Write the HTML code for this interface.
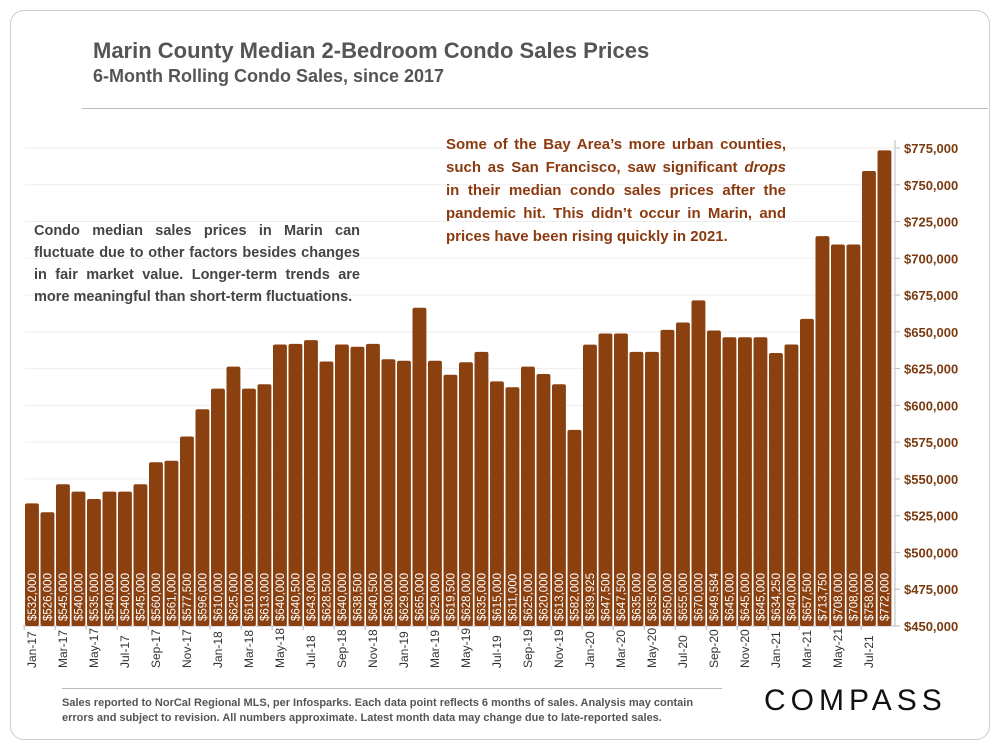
<!DOCTYPE html>
<html><head><meta charset="utf-8"><style>
body{margin:0;background:#fff;font-family:"Liberation Sans",sans-serif}
.card{position:absolute;left:10px;top:10px;width:978px;height:728px;border:1px solid #ccc;border-radius:14px}
.t1{position:absolute;left:93px;top:38px;font-size:22px;font-weight:bold;color:#555}
.t2{position:absolute;left:93px;top:66px;font-size:18px;font-weight:bold;color:#555}
.hr{position:absolute;left:82px;top:108px;width:906px;height:1px;background:#bbb}
.note1{position:absolute;left:34px;top:220px;width:326px;font-size:14.5px;font-weight:bold;color:#444;text-align:justify;line-height:22px}
.note2{position:absolute;left:446px;top:133px;width:340px;font-size:15px;font-weight:bold;color:#8B3A0F;text-align:justify;line-height:23px}
.foot{position:absolute;left:62px;top:696px;font-size:11px;font-weight:bold;color:#555;line-height:15px}
.fl{position:absolute;left:62px;top:688px;width:660px;height:1px;background:#bbb}
.logo{position:absolute;left:764px;top:684px;font-size:30px;letter-spacing:5px;color:#111}
</style></head><body>
<div class="card"></div>
<div class="t1">Marin County Median 2-Bedroom Condo Sales Prices</div>
<div class="t2">6-Month Rolling Condo Sales, since 2017</div>
<div class="hr"></div>
<svg id="c" width="1000" height="750" style="position:absolute;left:0;top:0"></svg>
<div class="note1">Condo median sales prices in Marin can fluctuate due to other factors besides changes in fair market value. Longer-term trends are more meaningful than short-term fluctuations.</div>
<div class="note2">Some of the Bay Area’s more urban counties, such as San Francisco, saw significant <i>drops</i> in their median condo sales prices after the pandemic hit. This didn’t occur in Marin, and prices have been rising quickly in 2021.</div>
<div class="fl"></div>
<div class="foot">Sales reported to NorCal Regional MLS, per Infosparks. Each data point reflects 6 months of sales. Analysis may contain<br>errors and subject to revision. All numbers approximate. Latest month data may change due to late-reported sales.</div>
<div class="logo">COMPASS</div>
<script>
const months=["Jan","Feb","Mar","Apr","May","Jun","Jul","Aug","Sep","Oct","Nov","Dec"];
const values=[532000,526000,545000,540000,535000,540000,540000,545000,560000,561000,577500,596000,610000,625000,610000,613000,640000,640500,643000,628500,640000,638500,640500,630000,629000,665000,629000,619500,628000,635000,615000,611000,625000,620000,613000,582000,639925,647500,647500,635000,635000,650000,655000,670000,649584,645000,645000,645000,634250,640000,657500,713750,708000,708000,758000,772000];
const yTicks=[450000,475000,500000,525000,550000,575000,600000,625000,650000,675000,700000,725000,750000,775000];
const categories=values.map((v,i)=>months[i%12]+"-"+(17+Math.floor(i/12)));
const NS="http://www.w3.org/2000/svg",svg=document.getElementById('c');
const y0=626,y1=148,vmin=450000,vmax=775000;
const y=v=>y0-(v-vmin)/(vmax-vmin)*(y0-y1);
const x0=25,pitch=(893-25)/values.length,bw=pitch-1.6;
const x=i=>x0+i*pitch;
function mk(t,a){const e=document.createElementNS(NS,t);for(const k in a)e.setAttribute(k,a[k]);svg.appendChild(e);return e;}
yTicks.forEach(t=>{
 const g=mk('line',{x1:25,x2:895,y1:y(t),y2:y(t),stroke:'#eee'});
 
 
 const tk=mk('line',{x1:895,x2:900,y1:y(t),y2:y(t),stroke:'#bbb'});
 
 
 const l=mk('text',{x:904,y:y(t)+5,'font-size':13,'font-weight':'bold',fill:'#7a3a10'});
 l.textContent='$'+t.toLocaleString('en-US');
 
 
});
const ax=mk('line',{x1:895,x2:895,y1:140,y2:y0,stroke:'#bbb'});


const bx=mk('line',{x1:23,x2:895,y1:y0,y2:y0,stroke:'#bbb'});


values.forEach((v,i)=>{
 const b=mk('rect',{x:x(i),y:y(v)-2,width:bw,height:y0-y(v)+2,rx:2,fill:'#8B4010'});
 
 
 const cx=x(i)+bw/2;
 const t=mk('text',{x:0,y:0,transform:`translate(${cx+4},621) rotate(-90)`,'font-size':11.5,fill:'#fff'});
 t.textContent='$'+v.toLocaleString('en-US');
 
 
 if(i%2==0){
  const tk=mk('line',{x1:x(i)-0.8,x2:x(i)-0.8,y1:y0,y2:y0+4,stroke:'#bbb'});
  
  
  const l=mk('text',{x:0,y:0,transform:`translate(${cx+4},668) rotate(-90)`,'font-size':12,fill:'#333'});
  l.textContent=categories[i];
  
  
 }
});
</script>
</body></html>
